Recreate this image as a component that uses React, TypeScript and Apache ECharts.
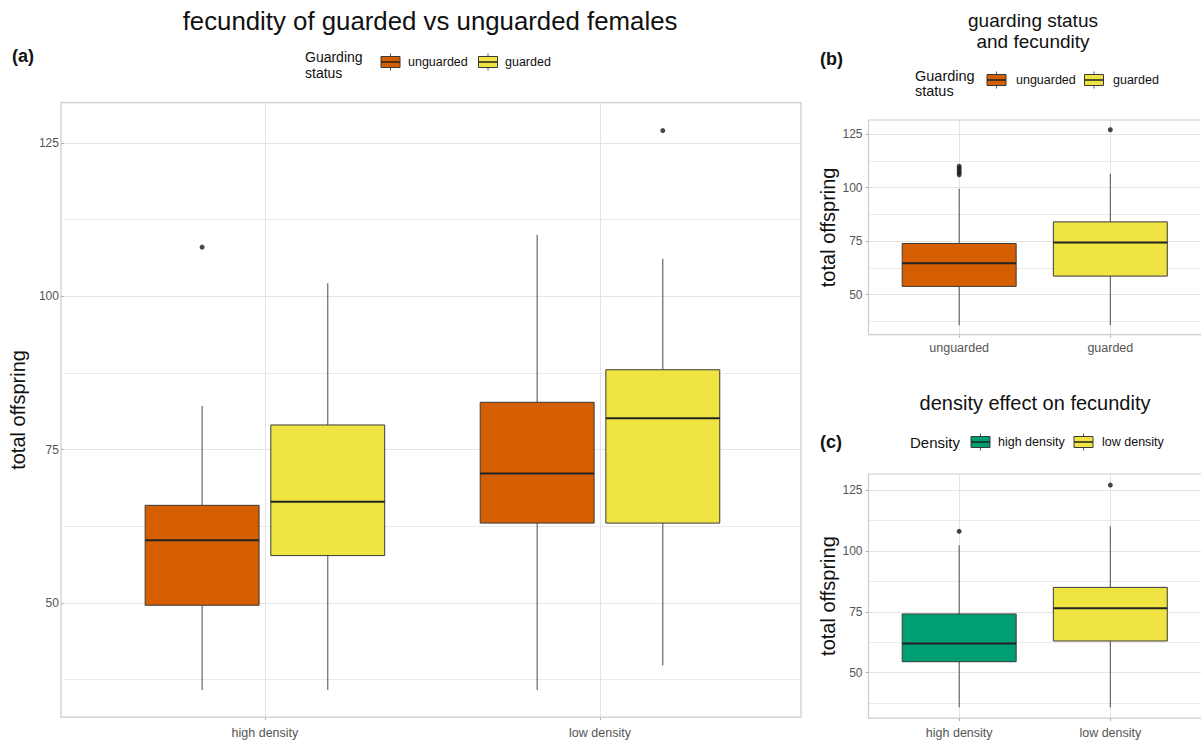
import React, { useEffect, useRef } from "react";
import * as echarts from "echarts";

// ---------- data ----------
const densityCategories = ["high density", "low density"];
const guardCategories = ["unguarded", "guarded"];
const yTicks = [50, 75, 100, 125];
const yMinorTicks = [37.5, 62.5, 87.5, 112.5];

// panel (a): [min, Q1, median, Q3, max] per density category
const aUnguardedStats = [
  [35.8, 49.6, 60.2, 65.9, 82.1],
  [35.8, 63.0, 71.1, 82.7, 110.0],
];
const aGuardedStats = [
  [35.8, 57.7, 66.5, 79.0, 102.1],
  [39.8, 63.0, 80.1, 88.0, 106.1],
];
const aUnguardedOutliers = [[108], []];
const aGuardedOutliers = [[], [127]];

// panel (b): per guarding status
const bStats = [
  [35.8, 53.9, 64.7, 73.9, 99.5],
  [35.8, 58.7, 74.4, 84.0, 106.5],
];
const bOutliers = [[106, 107, 108, 109, 110], [127]];

// panel (c): per density
const cStats = [
  [35.8, 54.5, 62.0, 74.1, 102.3],
  [35.8, 63.0, 76.4, 85.0, 110.0],
];
const cOutliers = [[108], [127]];

// ---------- style ----------
const FONT = "'Liberation Sans', Arial, sans-serif";
const ORANGE = "#D55E00";
const YELLOW = "#F0E442";
const GREEN = "#009E73";
const GRID_LINE = "#e4e4e4";
const BORDER = "#cccccc";
const Y_MIN = 31.35;
const Y_MAX = 131.55;

const grids = [
  { left: 61, top: 102.7, width: 740, height: 614.5 },
  { left: 868.5, top: 120, width: 335.7, height: 214.7 },
  { left: 868.5, top: 474, width: 335.7, height: 244.1 },
];

function xAxisFor(gridIndex: number, cats: string[], margin: number, fontSize: number) {
  return {
    type: "value",
    gridIndex,
    min: 0.4,
    max: 2.6,
    axisLine: { show: false },
    axisTick: { show: true, customValues: [1, 2], length: 3, lineStyle: { color: "#b0b0b0" } },
    axisLabel: {
      customValues: [1, 2],
      formatter: (v: number) => cats[Math.round(v) - 1] ?? "",
      color: "#555555",
      fontSize,
      margin,
      fontFamily: FONT,
    },
    splitLine: { show: true, lineStyle: { color: GRID_LINE, width: 1 } },
  };
}

function yAxesFor(gridIndex: number, nameGap: number, labelSize: number, labelMargin: number) {
  return [
    {
      type: "value",
      gridIndex,
      min: Y_MIN,
      max: Y_MAX,
      name: "total offspring",
      nameLocation: "middle",
      nameRotate: 90,
      nameGap,
      nameTextStyle: { fontSize: 20, color: "#111", fontFamily: FONT },
      axisLine: { show: false },
      axisTick: { show: true, customValues: yTicks, length: 3, lineStyle: { color: "#b0b0b0" } },
      axisLabel: {
        customValues: yTicks,
        color: "#555555",
        fontSize: labelSize,
        margin: labelMargin,
        fontFamily: FONT,
      },
      splitLine: { show: true, lineStyle: { color: GRID_LINE, width: 1.2 } },
    },
    {
      type: "value",
      gridIndex,
      min: Y_MIN,
      max: Y_MAX,
      position: "left",
      axisLine: { show: false },
      axisTick: { show: false, customValues: yMinorTicks },
      axisLabel: { show: false, customValues: yMinorTicks },
      splitLine: { show: true, lineStyle: { color: GRID_LINE, width: 0.8 } },
    },
  ];
}

function boxRenderer(offset: number, half: number, colors: string[]) {
  return (params: any, api: any) => {
    const x = api.value(0) + offset;
    const lo = api.coord([x, api.value(1)]);
    const q1 = api.coord([x, api.value(2)]);
    const med = api.coord([x, api.value(3)]);
    const q3 = api.coord([x, api.value(4)]);
    const hi = api.coord([x, api.value(5)]);
    const left = api.coord([x - half, api.value(3)])[0];
    const right = api.coord([x + half, api.value(3)])[0];
    const fill = colors[params.dataIndex % colors.length];
    const whisker = { stroke: "#5a5a5a", lineWidth: 1.1 };
    return {
      type: "group",
      children: [
        { type: "line", shape: { x1: lo[0], y1: lo[1], x2: q1[0], y2: q1[1] }, style: whisker },
        { type: "line", shape: { x1: q3[0], y1: q3[1], x2: hi[0], y2: hi[1] }, style: whisker },
        {
          type: "rect",
          shape: { x: left, y: q3[1], width: right - left, height: q1[1] - q3[1] },
          style: { fill, stroke: "#3a3a3a", lineWidth: 1 },
        },
        {
          type: "line",
          shape: { x1: left, y1: med[1], x2: right, y2: med[1] },
          style: { stroke: "#222222", lineWidth: 2 },
        },
      ],
    };
  };
}

function boxSeries(name: string, stats: number[][], gridIndex: number, offset: number, half: number, colors: string[]) {
  return {
    type: "custom",
    name,
    xAxisIndex: gridIndex,
    yAxisIndex: gridIndex * 2,
    renderItem: boxRenderer(offset, half, colors),
    encode: { x: 0, y: [1, 2, 3, 4, 5] },
    data: stats.map((s, i) => [i + 1, ...s]),
    z: 3,
  };
}

function outlierSeries(name: string, outliers: number[][], gridIndex: number, offset: number) {
  return {
    type: "scatter",
    name,
    xAxisIndex: gridIndex,
    yAxisIndex: gridIndex * 2,
    symbol: "circle",
    symbolSize: 5,
    itemStyle: { color: "#1a1a1a" },
    data: outliers.flatMap((vals, i) => vals.map((v) => [i + 1 + offset, v])),
    z: 4,
  };
}

function legendKey(cx: number, cy: number, fill: string) {
  return {
    type: "group",
    children: [
      { type: "line", shape: { x1: cx, y1: cy - 8.5, x2: cx, y2: cy + 8.5 }, style: { stroke: "#5a5a5a", lineWidth: 1 } },
      { type: "rect", shape: { x: cx - 9.5, y: cy - 5.5, width: 19, height: 11 }, style: { fill, stroke: "#3a3a3a", lineWidth: 1 } },
      { type: "line", shape: { x1: cx - 9.5, y1: cy, x2: cx + 9.5, y2: cy }, style: { stroke: "#222", lineWidth: 1.5 } },
    ],
  };
}

function txt(text: string, x: number, y: number, fontSize: number, extra: any = {}) {
  return {
    type: "text",
    x,
    y,
    style: {
      text,
      fontSize,
      fontFamily: FONT,
      fill: "#111",
      align: "left",
      verticalAlign: "middle",
      ...extra,
    },
  };
}

function panelBorder(g: { left: number; top: number; width: number; height: number }) {
  return {
    type: "rect",
    z: 1,
    silent: true,
    shape: { x: g.left, y: g.top, width: g.width, height: g.height },
    style: { fill: "none", stroke: BORDER, lineWidth: 1.2 },
  };
}

export default function App() {
  const ref = useRef<HTMLDivElement>(null);

  useEffect(() => {
    if (!ref.current) return;
    const chart = echarts.init(ref.current, undefined, { renderer: "svg" });
    const A_OFF = 0.1875;
    const A_HALF = 0.17;
    const BC_HALF = 0.377;

    const option: any = {
      animation: false,
      backgroundColor: "#ffffff",
      textStyle: { fontFamily: FONT },
      grid: grids.map((g) => ({ ...g, containLabel: false, show: false })),
      xAxis: [
        xAxisFor(0, densityCategories, 9, 12.5),
        xAxisFor(1, guardCategories, 7, 12.5),
        xAxisFor(2, densityCategories, 8, 12.5),
      ],
      yAxis: [...yAxesFor(0, 26, 12, 5), ...yAxesFor(1, 31, 12, 6), ...yAxesFor(2, 31, 12, 6)],
      series: [
        boxSeries("unguarded", aUnguardedStats, 0, -A_OFF, A_HALF, [ORANGE]),
        boxSeries("guarded", aGuardedStats, 0, A_OFF, A_HALF, [YELLOW]),
        outlierSeries("unguarded outliers", aUnguardedOutliers, 0, -A_OFF),
        outlierSeries("guarded outliers", aGuardedOutliers, 0, A_OFF),
        boxSeries("guarding status", bStats, 1, 0, BC_HALF, [ORANGE, YELLOW]),
        outlierSeries("guarding status outliers", bOutliers, 1, 0),
        boxSeries("density", cStats, 2, 0, BC_HALF, [GREEN, YELLOW]),
        outlierSeries("density outliers", cOutliers, 2, 0),
      ],
      graphic: [
        ...grids.map(panelBorder),
        // titles
        txt("fecundity of guarded vs unguarded females", 430, 21, 25.8, { align: "center" }),
        txt("guarding status\nand fecundity", 1033, 30.5, 19, { align: "center", lineHeight: 21 }),
        txt("density effect on fecundity", 1035, 403, 20, { align: "center" }),
        // tags
        txt("(a)", 12, 56, 18, { fontWeight: "bold" }),
        txt("(b)", 820, 59, 18, { fontWeight: "bold" }),
        txt("(c)", 820, 442, 18, { fontWeight: "bold" }),
        // legend (a)
        txt("Guarding\nstatus", 305, 65, 14, { lineHeight: 16 }),
        legendKey(390.5, 62, ORANGE),
        txt("unguarded", 408, 62, 12.5),
        legendKey(488, 62, YELLOW),
        txt("guarded", 505, 62, 12.5),
        // legend (b)
        txt("Guarding\nstatus", 915, 83.5, 14.5, { lineHeight: 15 }),
        legendKey(996.5, 80, ORANGE),
        txt("unguarded", 1016, 80, 12.5),
        legendKey(1094, 80, YELLOW),
        txt("guarded", 1113, 80, 12.5),
        // legend (c)
        txt("Density", 910, 442, 15),
        legendKey(980.5, 442, GREEN),
        txt("high density", 998, 442, 12.5),
        legendKey(1083.5, 442, YELLOW),
        txt("low density", 1102, 442, 12.5),
      ],
    };

    chart.setOption(option);
    return () => chart.dispose();
  }, []);

  return (
    <div
      ref={ref}
      style={{ position: "absolute", left: 0, top: 0, width: 1201, height: 740, background: "#fff" }}
    />
  );
}
